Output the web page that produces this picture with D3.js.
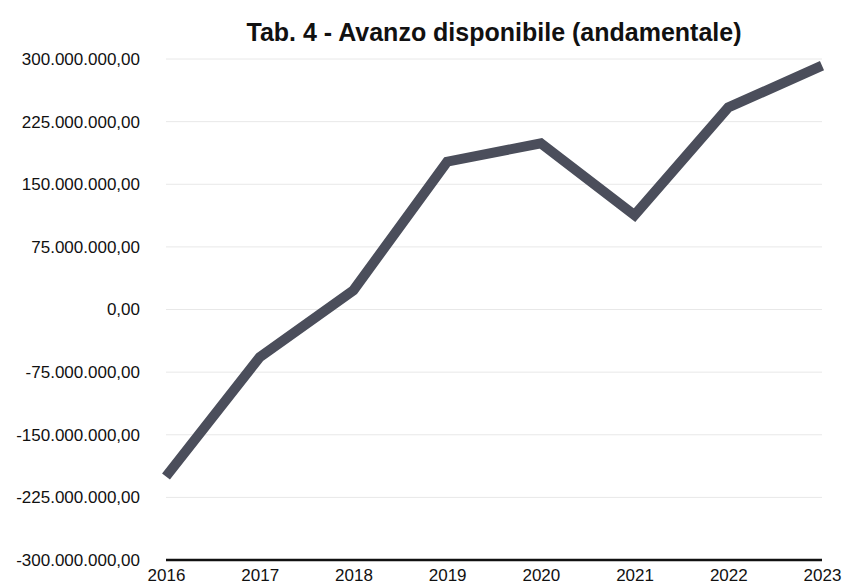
<!DOCTYPE html>
<html>
<head>
<meta charset="utf-8">
<script src="https://cdn.jsdelivr.net/npm/d3@7"></script>
<style>
  body { margin: 0; background: #fff; }
  #chart { width: 843px; height: 586px; }
  text { font-family: "Liberation Sans", Arial, sans-serif; }
</style>
</head>
<body>
<div id="chart"></div>
<script>
// data
const years = ["2016", "2017", "2018", "2019", "2020", "2021", "2022", "2023"];
const avanzo = [-200000000, -57000000, 23000000, 177000000, 199000000, 113000000, 242000000, 292000000];
const yTicks = [-300000000, -225000000, -150000000, -75000000, 0, 75000000, 150000000, 225000000, 300000000];

const width = 843, height = 586;
const margin = {top: 59, right: 21, bottom: 26, left: 166};

const svg = d3.select("#chart").append("svg")
    .attr("width", width)
    .attr("height", height);

// title
svg.append("text")
    .attr("x", 494)
    .attr("y", 41)
    .attr("text-anchor", "middle")
    .style("font-size", "25px")
    .style("font-weight", "bold")
    .attr("fill", "#111")
    .text("Tab. 4 - Avanzo disponibile (andamentale)");

const x = d3.scalePoint()
    .domain(years)
    .range([margin.left, width - margin.right]);

const y = d3.scaleLinear()
    .domain([-300000000, 300000000])
    .range([height - margin.bottom, margin.top]);

// italian number format: 300.000.000,00 (plain hyphen for negatives)
const itFmt = d3.formatLocale({decimal: ",", thousands: ".", grouping: [3], currency: ["€", ""], minus: "-"}).format(",.2f");

// gridlines
svg.append("g")
    .selectAll("line")
    .data(yTicks.filter(d => d !== -300000000))
    .enter().append("line")
    .attr("x1", margin.left)
    .attr("x2", width - margin.right)
    .attr("y1", d => y(d))
    .attr("y2", d => y(d))
    .attr("stroke", "#e8e8e8")
    .attr("stroke-width", 1);

// y axis labels
const yAxis = d3.axisLeft(y)
    .tickValues(yTicks)
    .tickFormat(itFmt)
    .tickSize(0)
    .tickPadding(26);

svg.append("g")
    .attr("transform", "translate(" + margin.left + ",0)")
    .call(yAxis)
    .call(g => g.select(".domain").remove())
    .call(g => g.selectAll("text")
        .style("font-size", "17px")
        .attr("fill", "#111"));

// x axis
const xAxis = d3.axisBottom(x).tickSize(0).tickPadding(9);

svg.append("g")
    .attr("transform", "translate(0," + y(-300000000) + ")")
    .call(xAxis)
    .call(g => g.select(".domain")
        .attr("d", "M" + margin.left + ",0H" + (width - margin.right))
        .attr("stroke", "#111")
        .attr("stroke-width", 2.5))
    .call(g => g.selectAll("text")
        .style("font-size", "17px")
        .attr("fill", "#111"));

// line
const line = d3.line()
    .x((d, i) => x(years[i]))
    .y(d => y(d));

svg.append("path")
    .datum(avanzo)
    .attr("fill", "none")
    .attr("stroke", "#4b4e5b")
    .attr("stroke-width", 10)
    .attr("stroke-linejoin", "miter")
    .attr("d", line);
</script>
</body>
</html>
